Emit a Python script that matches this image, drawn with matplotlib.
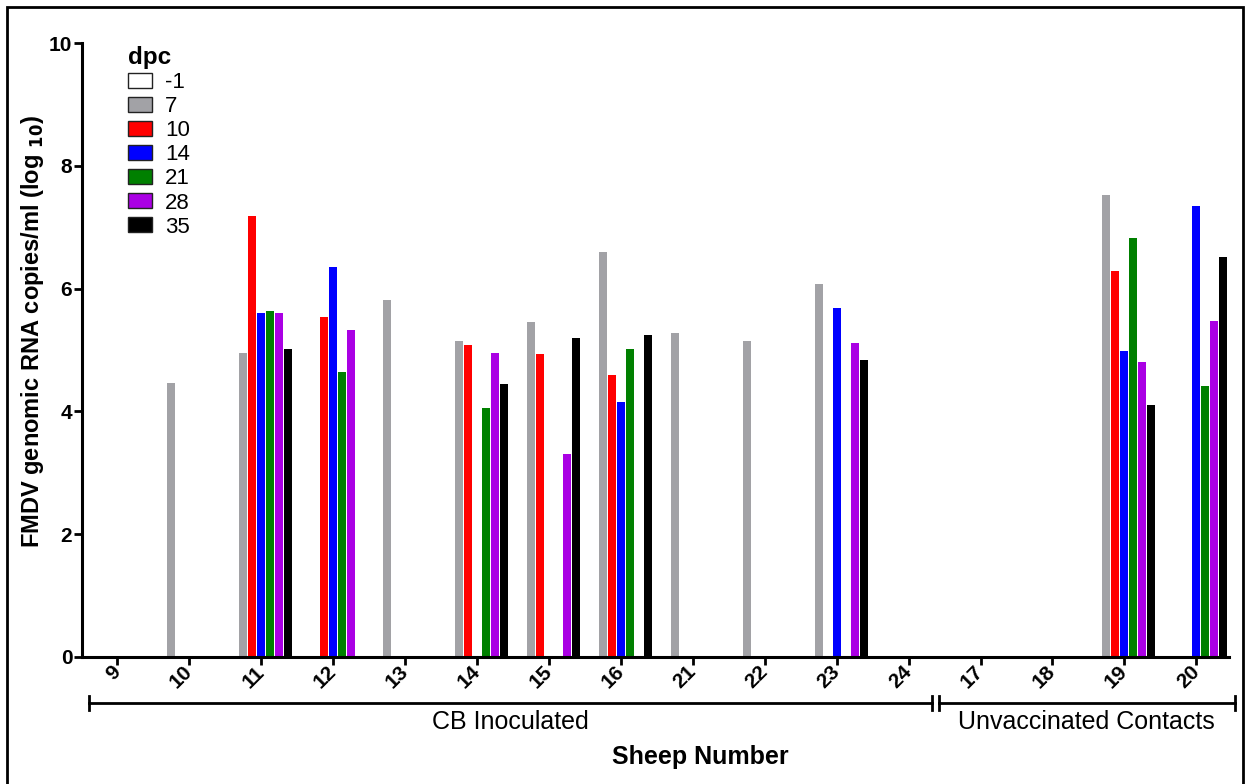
import numpy as np
import matplotlib
matplotlib.use("Agg")
import matplotlib.pyplot as plt
from matplotlib.patches import Patch, Rectangle
import matplotlib.transforms as mtransforms

plt.rcParams['font.family'] = ['Liberation Sans', 'DejaVu Sans']

sheep = ['9', '10', '11', '12', '13', '14', '15', '16', '21', '22', '23', '24', '17', '18', '19', '20']
dpc_labels = ['-1', '7', '10', '14', '21', '28', '35']
dpc_colors = ['#ffffff', '#a2a2a6', '#ff0000', '#0000ff', '#008000', '#aa00e4', '#000000']

dpc_m1 = [0, 0, 0, 0, 0, 0, 0, 0, 0, 0, 0, 0, 0, 0, 0, 0]
dpc_7 = [0, 4.46, 4.96, 0, 5.81, 5.15, 5.46, 6.59, 5.28, 5.15, 6.07, 0, 0, 0, 7.53, 0]
dpc_10 = [0, 0, 7.19, 5.54, 0, 5.09, 4.93, 4.60, 0, 0, 0, 0, 0, 0, 6.28, 0]
dpc_14 = [0, 0, 5.60, 6.36, 0, 0, 0, 4.16, 0, 0, 5.69, 0, 0, 0, 4.98, 7.35]
dpc_21 = [0, 0, 5.64, 4.65, 0, 4.05, 0, 5.01, 0, 0, 0, 0, 0, 0, 6.83, 4.42]
dpc_28 = [0, 0, 5.60, 5.32, 0, 4.96, 3.30, 0, 0, 0, 5.12, 0, 0, 0, 4.80, 5.48]
dpc_35 = [0, 0, 5.01, 0, 0, 4.44, 5.19, 5.25, 0, 0, 4.83, 0, 0, 0, 4.11, 6.52]
series = [dpc_m1, dpc_7, dpc_10, dpc_14, dpc_21, dpc_28, dpc_35]

groups = ['CB Inoculated', 'Unvaccinated Contacts']
group_spans = [(-0.39, 11.33), (11.42, 15.53)]

fig = plt.figure(figsize=(12.5, 7.84), dpi=100)
ax = fig.add_axes([0.0656, 0.162, 0.9174, 0.783])

x = np.arange(len(sheep))
pitch = 0.125
for i, (vals, col) in enumerate(zip(series, dpc_colors)):
    ax.bar(x + (i - 3) * pitch, vals, width=0.112, color=col, linewidth=0)

ax.set_xlim(-0.49, 15.45)
ax.set_ylim(0, 10)
ax.set_yticks([0, 2, 4, 6, 8, 10])
ax.set_xticks(x)
ax.set_xticklabels(sheep, rotation=45, ha='right', va='center', rotation_mode='anchor',
                   fontsize=15, fontweight='bold')
for lab in ax.get_yticklabels():
    lab.set_fontweight('bold')
    lab.set_fontsize(15)
ax.tick_params(axis='both', direction='out', length=6, width=2)
ax.tick_params(axis='x', pad=2.5)
ax.tick_params(axis='y', pad=1)
for s in ['top', 'right']:
    ax.spines[s].set_visible(False)
for s in ['left', 'bottom']:
    ax.spines[s].set_linewidth(2.2)

ax.set_ylabel('FMDV genomic RNA copies/ml (log $_{\\mathbf{10}}$)', fontsize=17, fontweight='bold')
ax.yaxis.set_label_coords(-0.031, 0.53)

# group brackets below the axis
trans = mtransforms.blended_transform_factory(ax.transData, ax.transAxes)
yb = -0.075
for name, (a, b) in zip(groups, group_spans):
    ax.plot([a, b], [yb, yb], color='black', lw=2, transform=trans, clip_on=False)
    for e in (a, b):
        ax.plot([e, e], [yb - 0.011, yb + 0.011], color='black', lw=2, transform=trans, clip_on=False)
    ax.text((a + b) / 2, -0.106, name, transform=trans, ha='center', va='center', fontsize=18)

ax.text(8.1, -0.163, 'Sheep Number', transform=trans, ha='center', va='center',
        fontsize=18, fontweight='bold')

handles = [Patch(facecolor=c, edgecolor='#222222', linewidth=1) for c in dpc_colors]
leg = ax.legend(handles, dpc_labels, title='dpc', loc='upper left', bbox_to_anchor=(0.032, 1.01),
                frameon=False, fontsize=16, title_fontproperties={'weight': 'bold', 'size': 17.5},
                handlelength=1.1, handleheight=0.65, labelspacing=0.14, handletextpad=0.6,
                borderaxespad=0)
leg._legend_box.align = 'left'

fig.patches.append(Rectangle((7 / 1250, -0.02), 1236 / 1250, 1 - 7 / 784 + 0.02,
                             transform=fig.transFigure, fill=False, edgecolor='black', lw=2))

fig.savefig('out.png', dpi=100)
